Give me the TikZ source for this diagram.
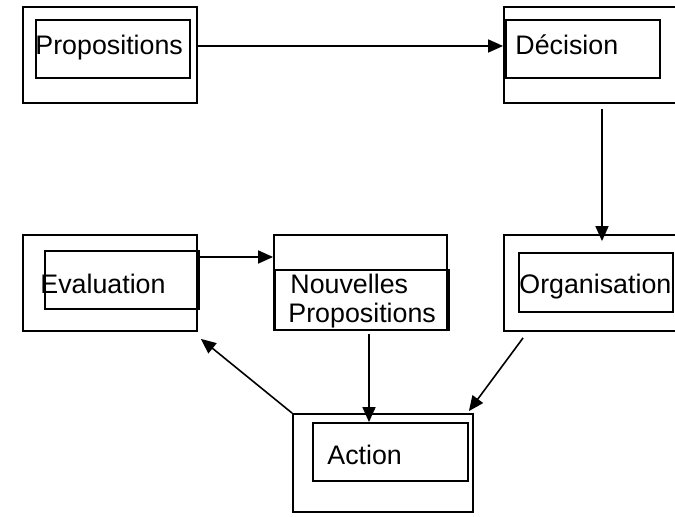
\documentclass[tikz,border=0pt]{standalone}
\usepackage{fontspec}
\setmainfont{Liberation Sans}
\usetikzlibrary{arrows.meta}
\begin{document}
\begin{tikzpicture}[x=0.5pt, y=-0.5pt, font=\fontsize{13.4}{15.5}\selectfont,
	box/.style 2 args={draw, line width=0.9pt, inner sep=0pt, minimum width=#1*0.5pt, minimum height=#2*0.5pt},
	word/.style={anchor=base west, inner sep=0pt},
	arr/.style={line width=0.8pt, -{Triangle[length=7.5pt, width=6.5pt]}}]
	\useasboundingbox (0, 0) rectangle (675, 517);
	\clip (0, 0) rectangle (675, 517);
	\node[box={174}{96}] (0) at (110, 55) {};
	\node[box={154}{58}] (1) at (113, 49) {};
	\node[box={174}{96}] (2) at (591, 55) {};
	\node[box={154}{58}] (3) at (583, 49) {};
	\node[box={174}{96}] (4) at (110, 283) {};
	\node[box={154}{58}] (5) at (122, 280) {};
	\node[box={173}{95}] (6) at (360.5, 282.5) {};
	\node[box={174}{60}] (7) at (362, 300) {};
	\node[box={174}{96}] (8) at (591, 283) {};
	\node[box={154}{59}] (9) at (596, 282.5) {};
	\node[box={180}{98}] (10) at (383, 463) {};
	\node[box={155}{58}] (11) at (390.5, 452) {};
	\node[word] (12) at (35, 55) {Propositions};
	\node[word] (13) at (515, 55) {Décision};
	\node[word] (14) at (40, 294) {Evaluation};
	\node[word] (15) at (290, 294) {Nouvelles};
	\node[word] (16) at (288, 323) {Propositions};
	\node[word] (17) at (519, 294) {Organisation};
	\node[word] (18) at (327, 465) {Action};
	\draw[arr] ([yshift=4.5pt]0.east) to ([yshift=4.5pt]2.west);
	\draw[arr] ([xshift=5.5pt, yshift=-2.5pt]2.south) to ([xshift=5.5pt, yshift=-3.5pt]8.north);
	\draw[arr] ([yshift=11.5pt]5.east) to ([yshift=11.5pt]5.east -| 6.west);
	\draw[arr] ([xshift=3.5pt, yshift=-1.5pt]7.south) to ([xshift=3.5pt]7.south |- 11.north);
	\draw[arr] ([xshift=10pt, yshift=-3pt]8.south west) to ([xshift=-2.5pt, yshift=1pt]10.north east);
	\draw[arr] (10.north west) to ([xshift=1.5pt, yshift=-3.5pt]4.south east);
\end{tikzpicture}
\end{document}
